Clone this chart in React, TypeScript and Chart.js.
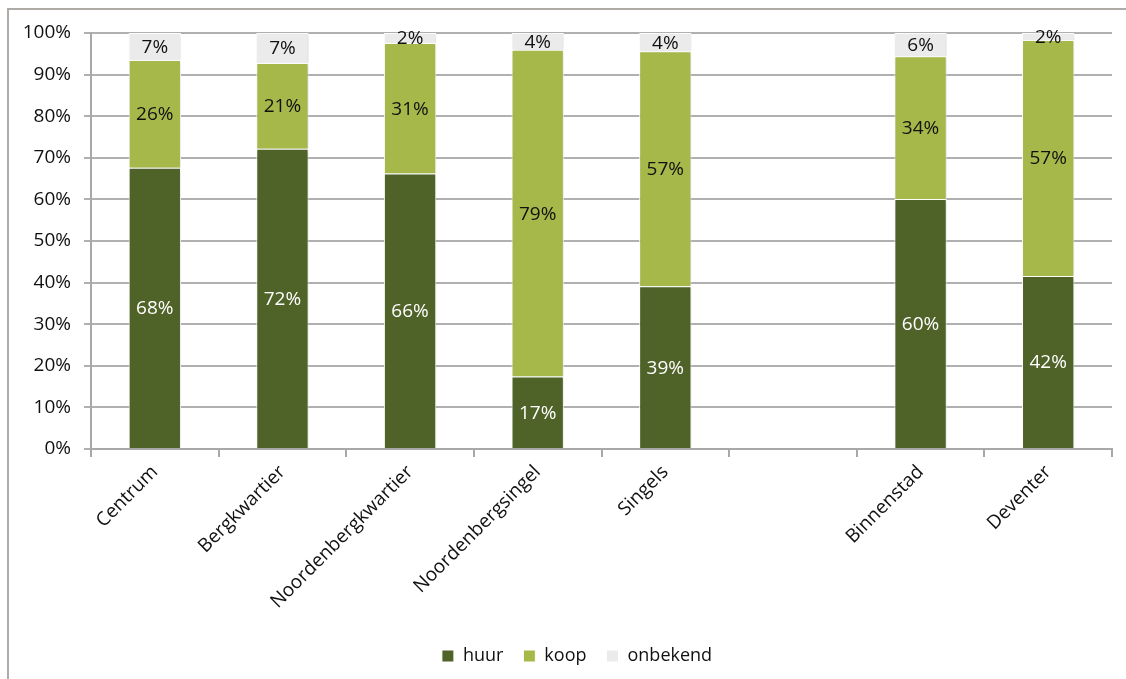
import React, { useEffect, useRef } from "react";
import { Chart, registerables } from "chart.js";

Chart.register(...registerables);

const categories = [
  "Centrum",
  "Bergkwartier",
  "Noordenbergkwartier",
  "Noordenbergsingel",
  "Singels",
  "",
  "Binnenstad",
  "Deventer",
];
const huur = [67.6, 72.2, 66.2, 17.4, 39.1, null, 60.1, 41.6];
const koop = [25.9, 20.6, 31.4, 78.6, 56.5, null, 34.3, 56.7];
const onbekend = [6.5, 7.2, 2.4, 4.0, 4.4, null, 5.6, 1.7];
const seriesNames = ["huur", "koop", "onbekend"];
const yTicks = [0, 10, 20, 30, 40, 50, 60, 70, 80, 90, 100];

const FONT = "'Open Sans', sans-serif";
const colors = ["#4f6228", "#a7b84a", "#ebebeb"];
const labelColors = ["#ffffff", "#111111", "#111111"];

const legendShiftPlugin = {
  id: "legendShift",
  afterLayout(chart: any) {
    const lg = chart.legend;
    if (lg) {
      lg.left += 21;
      lg.right += 21;
    }
  },
};

const shadowPlugin = {
  id: "barShadow",
  beforeDatasetsDraw(chart: any) {
    const ctx = chart.ctx;
    ctx.save();
    ctx.shadowColor = "rgba(0,0,0,0.15)";
    ctx.shadowBlur = 3;
    ctx.shadowOffsetX = 1;
    ctx.shadowOffsetY = 1;
  },
  afterDatasetsDraw(chart: any) {
    const ctx = chart.ctx;
    ctx.restore();
    ctx.save();
    ctx.font = `19px ${FONT}`;
    ctx.textAlign = "center";
    ctx.textBaseline = "middle";
    chart.data.datasets.forEach((ds: any, di: number) => {
      const meta = chart.getDatasetMeta(di);
      meta.data.forEach((el: any, i: number) => {
        const v = ds.data[i];
        if (v === null || v === undefined) return;
        const props = el.getProps(["x", "y", "base"], true);
        ctx.fillStyle = labelColors[di];
        ctx.fillText(Math.round(v) + "%", props.x, (props.y + props.base) / 2 + 1);
      });
    });
    ctx.restore();
  },
};

export default function App() {
  const ref = useRef<HTMLCanvasElement | null>(null);
  useEffect(() => {
    if (!ref.current) return;
    const chart = new Chart(ref.current, {
      type: "bar",
      data: {
        labels: categories,
        datasets: [huur, koop, onbekend].map((d, i) => ({
          label: seriesNames[i],
          data: d,
          backgroundColor: colors[i],
          borderColor: "#ffffff",
          borderWidth: 1,
          barPercentage: 0.41,
          categoryPercentage: 1,
        })),
      },
      options: {
        animation: false,
        responsive: false,
        maintainAspectRatio: false,
        layout: { padding: { top: 33, left: 0, right: 14, bottom: 13 } },
        plugins: {
          tooltip: { enabled: false },
          legend: {
            position: "bottom",
            labels: {
              font: { family: FONT, size: 18 },
              color: "#111111",
              boxWidth: 12,
              boxHeight: 12,
              padding: 20,
            },
          },
        },
        scales: {
          x: {
            stacked: true,
            grid: {
              offset: true,
              drawOnChartArea: false,
              drawTicks: true,
              tickLength: 8,
              color: "#a8a8a8",
              lineWidth: 2,
            },
            border: { color: "#a8a8a8", width: 2 },
            ticks: {
              font: { family: FONT, size: 19 },
              color: "#111111",
              minRotation: 45,
              maxRotation: 45,
              autoSkip: false,
              padding: 4,
            },
            afterFit(scale: any) {
              scale.height = 178;
            },
          },
          y: {
            stacked: true,
            min: 0,
            max: 100,
            afterBuildTicks(scale: any) {
              scale.ticks = yTicks.map((v) => ({ value: v }));
            },
            grid: { color: "#b0b0b0", lineWidth: 2, tickLength: 7 },
            border: { color: "#a8a8a8", width: 2 },
            ticks: {
              font: { family: FONT, size: 19 },
              color: "#111111",
              padding: 13,
              callback: (v: any) => v + "%",
            },
            afterFit(scale: any) {
              scale.width = 91;
            },
          },
        },
      },
      plugins: [shadowPlugin, legendShiftPlugin],
    });
    return () => chart.destroy();
  }, []);

  return (
    <div
      style={{
        position: "fixed",
        left: 0,
        top: 0,
        width: 1126,
        height: 679,
        overflow: "hidden",
        background: "#ffffff",
      }}
    >
      <div
        style={{
          position: "absolute",
          left: 7,
          top: 8,
          width: 2000,
          height: 2000,
          borderLeft: "2px solid #aeaaa6",
          borderTop: "2px solid #aeaaa6",
        }}
      />
      <canvas
        ref={ref}
        width={1126}
        height={688}
        style={{ position: "absolute", left: 0, top: 0, width: 1126, height: 688 }}
      />
    </div>
  );
}
